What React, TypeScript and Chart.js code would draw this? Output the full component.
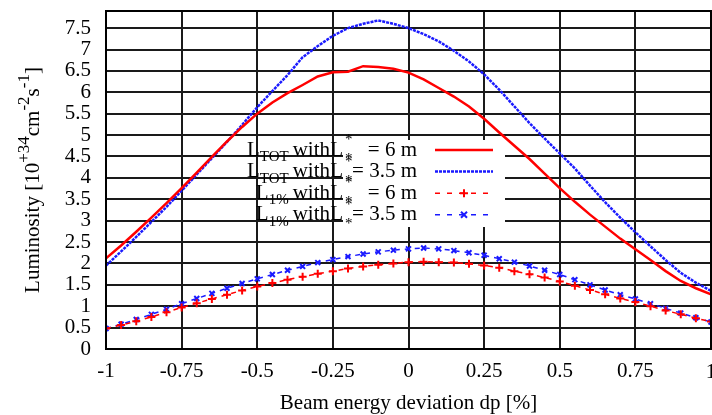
import React, { useEffect, useRef } from 'react';
import { Chart, registerables } from 'chart.js';

Chart.register(...registerables);

const FONT = "'Liberation Serif', 'Times New Roman', serif";

const dp = [
  -1, -0.95, -0.9, -0.85, -0.8, -0.75, -0.7, -0.65, -0.6, -0.55, -0.5,
  -0.45, -0.4, -0.35, -0.3, -0.25, -0.2, -0.15, -0.1, -0.05, 0,
  0.05, 0.1, 0.15, 0.2, 0.25, 0.3, 0.35, 0.4, 0.45, 0.5,
  0.55, 0.6, 0.65, 0.7, 0.75, 0.8, 0.85, 0.9, 0.95, 1,
];

const lumTot6 = [
  2.12, 2.42, 2.74, 3.07, 3.41, 3.76, 4.12, 4.49, 4.85, 5.19, 5.5,
  5.76, 5.98, 6.17, 6.37, 6.47, 6.48, 6.61, 6.59, 6.55, 6.46,
  6.3, 6.1, 5.9, 5.67, 5.38, 5.06, 4.75, 4.44, 4.1, 3.76,
  3.44, 3.14, 2.86, 2.58, 2.33, 2.08, 1.82, 1.59, 1.42, 1.28,
];

const lumTot35 = [
  1.95, 2.28, 2.62, 2.97, 3.32, 3.7, 4.08, 4.46, 4.84, 5.24, 5.65,
  6.03, 6.4, 6.82, 7.08, 7.32, 7.5, 7.6, 7.68, 7.6, 7.5,
  7.36, 7.19, 6.97, 6.72, 6.42, 6.06, 5.67, 5.28, 4.92, 4.57,
  4.22, 3.82, 3.43, 3.07, 2.73, 2.4, 2.08, 1.78, 1.55, 1.36,
];

const lum1pct6 = [
  0.48, 0.56, 0.65, 0.75, 0.86, 0.97, 1.07, 1.17, 1.27, 1.37, 1.46,
  1.54, 1.62, 1.69, 1.76, 1.82, 1.88, 1.93, 1.97, 2.0, 2.03,
  2.04, 2.03, 2.02, 1.99, 1.95, 1.9, 1.82, 1.75, 1.67, 1.58,
  1.48, 1.38, 1.28, 1.18, 1.1, 1.0, 0.9, 0.81, 0.72, 0.64,
];

const lum1pct35 = [
  0.48, 0.58, 0.69, 0.81, 0.93, 1.06, 1.18, 1.3, 1.42, 1.53, 1.64,
  1.74, 1.84, 1.93, 2.02, 2.09, 2.16, 2.22, 2.27, 2.31, 2.34,
  2.36, 2.34, 2.3, 2.25, 2.19, 2.11, 2.03, 1.94, 1.84, 1.74,
  1.62, 1.5, 1.38, 1.27, 1.17, 1.06, 0.95, 0.84, 0.73, 0.63,
];

const xTicks = [-1, -0.75, -0.5, -0.25, 0, 0.25, 0.5, 0.75, 1];
const xTickLabels = ['-1', '-0.75', '-0.5', '-0.25', '0', '0.25', '0.5', '0.75', '1'];
const yTicks = [0, 0.5, 1, 1.5, 2, 2.5, 3, 3.5, 4, 4.5, 5, 5.5, 6, 6.5, 7, 7.5];
const yTickLabels = ['0', '0.5', '1', '1.5', '2', '2.5', '3', '3.5', '4', '4.5', '5', '5.5', '6', '6.5', '7', '7.5'];

const xTitle = 'Beam energy deviation dp [%]';
const yTitleParts: [string, boolean][] = [
  ['Luminosity [10', false],
  ['+34', true],
  ['cm', false],
  ['-2', true],
  ['s', false],
  ['-1', true],
  [']', false],
];

const legendRows = [
  { sub: 'TOT', rest: '= 6 m', color: '#ff0000', kind: 'solid' },
  { sub: 'TOT', rest: '= 3.5 m', color: '#1a1aff', kind: 'dotted' },
  { sub: '1%', rest: '= 6 m', color: '#ff0000', kind: 'plus' },
  { sub: '1%', rest: '= 3.5 m', color: '#1a1aff', kind: 'x' },
];

const RED = '#ff0000';
const BLUE = '#1a1aff';

function pts(vals: number[]) {
  return dp.map((x, i) => ({ x, y: vals[i] }));
}

const overlay = {
  id: 'overlay',
  beforeDatasetsDraw(chart: any) {
    const ctx: CanvasRenderingContext2D = chart.ctx;
    const { top, bottom } = chart.chartArea;
    ctx.save();
    const keyRight = 417;
    const rowY0 = 150;
    const rowH = 21.6;
    ctx.fillStyle = '#ffffff';
    ctx.fillRect(keyRight - 74, rowY0 - 10, 162, 87);
    ctx.fillStyle = '#000';
    ctx.textBaseline = 'middle';
    legendRows.forEach((r, i) => {
      const y = rowY0 + i * rowH;
      ctx.font = `21px ${FONT}`;
      ctx.textAlign = 'right';
      ctx.fillText(r.rest, keyRight, y);
      ctx.fillText('L', keyRight - 74, y);
      const withRight = keyRight - 87;
      ctx.fillText('with', withRight, y);
      const wWith = ctx.measureText('with').width;
      ctx.font = `15px ${FONT}`;
      ctx.textAlign = 'left';
      ctx.fillText('*', keyRight - 72, y - 10);
      ctx.fillText('*', keyRight - 72, y + 9);
      const subW = ctx.measureText(r.sub).width;
      const subX = withRight - wWith - 4 - subW;
      ctx.fillText(r.sub, subX, y + 7);
      ctx.font = `21px ${FONT}`;
      ctx.textAlign = 'right';
      ctx.fillText('L', subX, y);
      const x0 = keyRight + 18;
      const x1 = keyRight + 76;
      ctx.strokeStyle = r.color;
      if (r.kind === 'solid') {
        ctx.lineWidth = 2.5;
        ctx.setLineDash([]);
      } else if (r.kind === 'dotted') {
        ctx.lineWidth = 2.5;
        ctx.setLineDash([3, 1]);
      } else {
        ctx.lineWidth = 1.5;
        ctx.setLineDash([5, 7]);
      }
      ctx.beginPath();
      ctx.moveTo(x0, y);
      ctx.lineTo(x1, y);
      ctx.stroke();
      ctx.setLineDash([]);
      const mx = (x0 + x1) / 2;
      ctx.lineWidth = 2;
      if (r.kind === 'plus') {
        ctx.beginPath();
        ctx.moveTo(mx - 4, y);
        ctx.lineTo(mx + 4, y);
        ctx.moveTo(mx, y - 4);
        ctx.lineTo(mx, y + 4);
        ctx.stroke();
      } else if (r.kind === 'x') {
        ctx.beginPath();
        ctx.moveTo(mx - 3, y - 3);
        ctx.lineTo(mx + 3, y + 3);
        ctx.moveTo(mx - 3, y + 3);
        ctx.lineTo(mx + 3, y - 3);
        ctx.stroke();
      }
    });
    ctx.fillStyle = '#000';
    ctx.font = `21px ${FONT}`;
    ctx.textAlign = 'center';
    ctx.textBaseline = 'middle';
    const cx = (chart.chartArea.left + chart.chartArea.right) / 2;
    ctx.fillText(xTitle, cx, 403);
    const lastIdx = xTicks.length - 1;
    ctx.fillText(xTickLabels[lastIdx], chart.scales.x.getPixelForValue(xTicks[lastIdx]), 372);
    ctx.translate(33, (top + bottom) / 2);
    ctx.rotate(-Math.PI / 2);
    let total = 0;
    const widths = yTitleParts.map(([t, sup]) => {
      ctx.font = `${sup ? 17 : 21}px ${FONT}`;
      const w = ctx.measureText(t).width;
      total += w;
      return w;
    });
    let x = -total / 2;
    ctx.textAlign = 'left';
    yTitleParts.forEach(([t, sup], i) => {
      ctx.font = `${sup ? 17 : 21}px ${FONT}`;
      ctx.fillText(t, x, sup ? -8 : 0);
      x += widths[i];
    });
    ctx.restore();
  },
  afterDatasetsDraw(chart: any) {
    const ctx: CanvasRenderingContext2D = chart.ctx;
    const { left, right, top, bottom } = chart.chartArea;
    ctx.save();
    ctx.strokeStyle = '#000';
    ctx.lineWidth = 2;
    ctx.strokeRect(left, top, right - left, bottom - top);
    ctx.restore();
  },
};

export default function App() {
  const ref = useRef<HTMLCanvasElement | null>(null);
  useEffect(() => {
    if (!ref.current) return;
    const chart = new Chart(ref.current, {
      type: 'line',
      data: {
        datasets: [
          {
            label: 'L1% with L* = 6 m',
            data: pts(lum1pct6),
            borderColor: RED,
            backgroundColor: RED,
            borderWidth: 1.5,
            borderDash: [5, 5],
            pointStyle: 'cross',
            pointRadius: 4,
            pointBorderWidth: 2,
            pointBorderColor: RED,
            fill: false,
          },
          {
            label: 'L1% with L* = 3.5 m',
            data: pts(lum1pct35),
            borderColor: BLUE,
            backgroundColor: BLUE,
            borderWidth: 1.5,
            borderDash: [5, 5],
            pointStyle: 'crossRot',
            pointRadius: 3.5,
            pointBorderWidth: 2,
            pointBorderColor: BLUE,
            fill: false,
          },
          {
            label: 'LTOT with L* = 6 m',
            data: pts(lumTot6),
            borderColor: RED,
            borderWidth: 2.5,
            pointRadius: 0,
            fill: false,
          },
          {
            label: 'LTOT with L* = 3.5 m',
            data: pts(lumTot35),
            borderColor: BLUE,
            borderWidth: 2.5,
            borderDash: [3, 1],
            pointRadius: 0,
            fill: false,
          },
        ],
      },
      options: {
        animation: false,
        responsive: false,
        maintainAspectRatio: false,
        layout: { autoPadding: false, padding: { top: 11, right: 1, left: 0, bottom: 0 } },
        plugins: { legend: { display: false }, tooltip: { enabled: false }, title: { display: false } },
        elements: { line: { tension: 0 } },
        scales: {
          x: {
            type: 'linear',
            min: -1,
            max: 1,
            afterBuildTicks: (s: any) => {
              s.ticks = xTicks.map((v) => ({ value: v }));
            },
            afterFit: (s: any) => {
              s.height = 66;
              s.paddingLeft = 0;
              s.paddingRight = 0;
            },
            ticks: {
              callback: (_v: any, i: number) => (i === xTicks.length - 1 ? '' : xTickLabels[i]),
              font: { family: FONT, size: 21 },
              color: '#000',
              padding: 10,
              maxRotation: 0,
              autoSkip: false,
            },
            grid: { color: '#1a1a1a', lineWidth: 2, drawTicks: false },
            border: { display: false },
          },
          y: {
            type: 'linear',
            min: 0,
            max: 7.9,
            afterBuildTicks: (s: any) => {
              s.ticks = yTicks.map((v) => ({ value: v }));
            },
            afterFit: (s: any) => {
              s.width = 106;
              s.paddingTop = 0;
              s.paddingBottom = 0;
            },
            ticks: {
              callback: (_v: any, i: number) => yTickLabels[i],
              font: { family: FONT, size: 21 },
              color: '#000',
              padding: 15,
              autoSkip: false,
            },
            grid: { color: '#1a1a1a', lineWidth: 2, drawTicks: false },
            border: { display: false },
          },
        },
      },
      plugins: [overlay],
    } as any);
    return () => chart.destroy();
  }, []);
  return (
    <div style={{ position: 'fixed', left: 0, top: 0, width: 712, height: 415, background: '#fff' }}>
      <canvas ref={ref} width={712} height={415} style={{ display: 'block' }} />
    </div>
  );
}
